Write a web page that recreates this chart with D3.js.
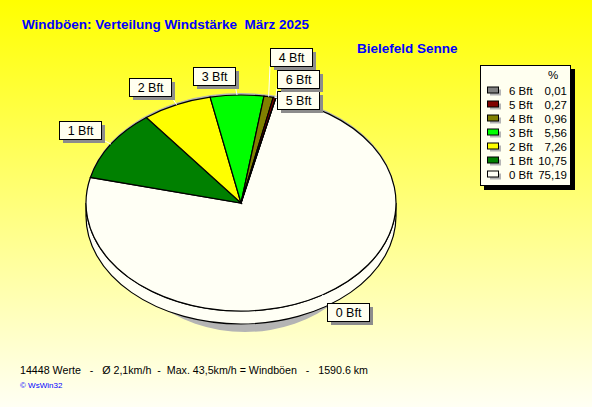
<!DOCTYPE html>
<html lang='de'>
  <head>
    <meta charset='utf-8'>
    <style>
      html, body { margin: 0; padding: 0; }
      svg { display: block; font-family: 'Liberation Sans', Arial, sans-serif; }
    </style>
  </head>
  <body>
    <div id='chart'></div>

    <script src='https://cdn.jsdelivr.net/npm/d3@7/dist/d3.min.js'></script>
    <script>
      // data
      var categories = ['0 Bft', '1 Bft', '2 Bft', '3 Bft', '4 Bft', '5 Bft', '6 Bft'];
      var percents = [75.19, 10.75, 7.26, 5.56, 0.96, 0.27, 0.01];
      var colors = ['#fffff5', '#008000', '#ffff00', '#00ff00', '#808000', '#800000', '#808080'];
      var titleText = 'Windböen: Verteilung Windstärke  März 2025';
      var stationText = 'Bielefeld Senne';
      var footerText = '14448 Werte   -   Ø 2,1km/h  -  Max. 43,5km/h = Windböen   -   1590.6 km';

      // where the label boxes sit (top-left corners)
      var labelAt = {
        '0 Bft': [327, 303], '1 Bft': [59, 121], '2 Bft': [129, 78], '3 Bft': [193, 67],
        '4 Bft': [270, 48], '5 Bft': [277, 91], '6 Bft': [277, 70]
      };

      var width = 592, height = 407;
      var cx = 241, cy = 203, rx = 155, ry = 108, depth = 13;
      var start = 13 * Math.PI / 180;

      var svg = d3.select('#chart').append('svg')
          .attr('width', width)
          .attr('height', height);

      var defs = svg.append('defs');
      var grad = defs.append('linearGradient')
          .attr('id', 'bg').attr('x1', 0).attr('y1', 0).attr('x2', 0).attr('y2', 1);
      grad.append('stop').attr('offset', '0%').attr('stop-color', '#ffff00');
      grad.append('stop').attr('offset', '100%').attr('stop-color', '#fffff4');

      svg.append('rect')
          .attr('width', width).attr('height', height)
          .attr('fill', 'url(#bg)');

      // titles
      svg.append('text')
          .attr('x', 22).attr('y', 29)
          .attr('fill', '#0000ff').attr('font-weight', 'bold').attr('font-size', 13.5)
          .style('white-space', 'pre')
          .text(titleText);

      svg.append('text')
          .attr('x', 357).attr('y', 53)
          .attr('fill', '#0000ff').attr('font-weight', 'bold').attr('font-size', 13.5)
          .text(stationText);

      // pie angles (clockwise from 12 o'clock)
      var pie = d3.pie().sort(null).value(function (d) { return d; })
          .startAngle(start).endAngle(start + 2 * Math.PI);
      var arcs = pie(percents);

      function pt(a, dy) {
        return [cx + rx * Math.sin(a), cy + (dy || 0) - ry * Math.cos(a)];
      }

      // shadow under the disc
      var srx = rx - 25;
      var shadowD = 'M' + (cx - rx) + ',' + (cy - 2) +
          ' A' + rx + ',' + ry + ' 0 0 1 ' + (cx + rx) + ',' + (cy - 2) +
          ' L' + (cx + 4 + srx) + ',' + (cy + depth + 8) +
          ' A' + srx + ',' + ry + ' 0 0 1 ' + (cx + 4 - srx) + ',' + (cy + depth + 8) + ' Z';
      svg.append('path').attr('d', shadowD).attr('fill', '#b4b4b4');

      // side wall (only the front half shows)
      var sides = svg.append('g');
      arcs.forEach(function (d, i) {
        var a0 = Math.max(d.startAngle, Math.PI / 2);
        var a1 = Math.min(d.endAngle, 3 * Math.PI / 2);
        if (a1 <= a0) return;
        var p0 = pt(a0), p1 = pt(a1), q1 = pt(a1, depth), q0 = pt(a0, depth);
        var big = (a1 - a0) > Math.PI ? 1 : 0;
        sides.append('path')
            .attr('d', 'M' + p0 + ' A' + rx + ',' + ry + ' 0 ' + big + ' 1 ' + p1 +
                ' L' + q1 + ' A' + rx + ',' + ry + ' 0 ' + big + ' 0 ' + q0 + ' Z')
            .attr('fill', colors[i])
            .attr('stroke', '#000').attr('stroke-width', 1.2);
      });

      // top face
      var arc = d3.arc().innerRadius(0).outerRadius(rx);
      svg.append('g')
          .attr('transform', 'translate(' + cx + ',' + cy + ') scale(1,' + (ry / rx) + ')')
        .selectAll('path')
          .data(arcs)
        .enter().append('path')
          .attr('d', arc)
          .attr('fill', function (d, i) { return colors[i]; })
          .attr('stroke', '#000')
          .attr('stroke-width', 1.2)
          .attr('vector-effect', 'non-scaling-stroke');

      // labels with leader lines
      var lab = svg.append('g').attr('font-size', 12.5);
      arcs.forEach(function (d, i) {
        var name = categories[i];
        var box = labelAt[name];
        var w = 42, h = 18;
        var p = pt((d.startAngle + d.endAngle) / 2);
        var tx = Math.max(box[0], Math.min(p[0], box[0] + w));
        var ty = Math.max(box[1], Math.min(p[1], box[1] + h));
        lab.append('line')
            .attr('x1', p[0]).attr('y1', p[1]).attr('x2', tx).attr('y2', ty)
            .attr('stroke', '#fff').attr('stroke-width', 1);
        lab.append('rect')
            .attr('x', box[0] + 4).attr('y', box[1] + 4).attr('width', w).attr('height', h)
            .attr('fill', '#8c8c8c');
        lab.append('rect')
            .attr('x', box[0] + 0.5).attr('y', box[1] + 0.5).attr('width', w).attr('height', h)
            .attr('fill', '#fffff0').attr('stroke', '#000');
        lab.append('text')
            .attr('x', box[0] + w / 2 + 0.5).attr('y', box[1] + 14)
            .attr('text-anchor', 'middle')
            .text(name);
      });

      // legend
      var fmt = d3.formatLocale({ decimal: ',', thousands: '.', grouping: [3], currency: ['', ''] }).format('.2f');
      var lg = svg.append('g').attr('font-size', 11.5);
      lg.append('rect').attr('x', 484).attr('y', 69).attr('width', 91).attr('height', 121).attr('fill', '#000');
      lg.append('rect').attr('x', 480.5).attr('y', 65.5).attr('width', 90).attr('height', 120)
          .attr('fill', '#fffff0').attr('stroke', '#000');
      lg.append('text').attr('x', 553).attr('y', 79).attr('text-anchor', 'middle').text('%');

      var order = d3.range(categories.length - 1, -1, -1);
      var rowY = d3.scalePoint().domain(order).range([90.5, 174.5]);
      order.forEach(function (i) {
        var y = rowY(i);
        lg.append('rect').attr('x', 490).attr('y', y - 1).attr('width', 11).attr('height', 6).attr('fill', '#b4b4b4');
        lg.append('rect').attr('x', 487.5).attr('y', y - 3.5).attr('width', 11).attr('height', 6)
            .attr('fill', colors[i]).attr('stroke', '#000');
        lg.append('text').attr('x', 509).attr('y', y + 4).text(categories[i]);
        lg.append('text').attr('x', 567).attr('y', y + 4).attr('text-anchor', 'end').text(fmt(percents[i]));
      });

      // footer
      svg.append('text')
          .attr('x', 20).attr('y', 374)
          .attr('font-size', 11).attr('fill', '#000')
          .attr('textLength', 348).attr('lengthAdjust', 'spacingAndGlyphs')
          .style('white-space', 'pre')
          .text(footerText);
      svg.append('text')
          .attr('x', 20).attr('y', 388)
          .attr('font-size', 8).attr('fill', '#0000ff')
          .text('© WsWin32');
    </script>
  </body>
</html>
